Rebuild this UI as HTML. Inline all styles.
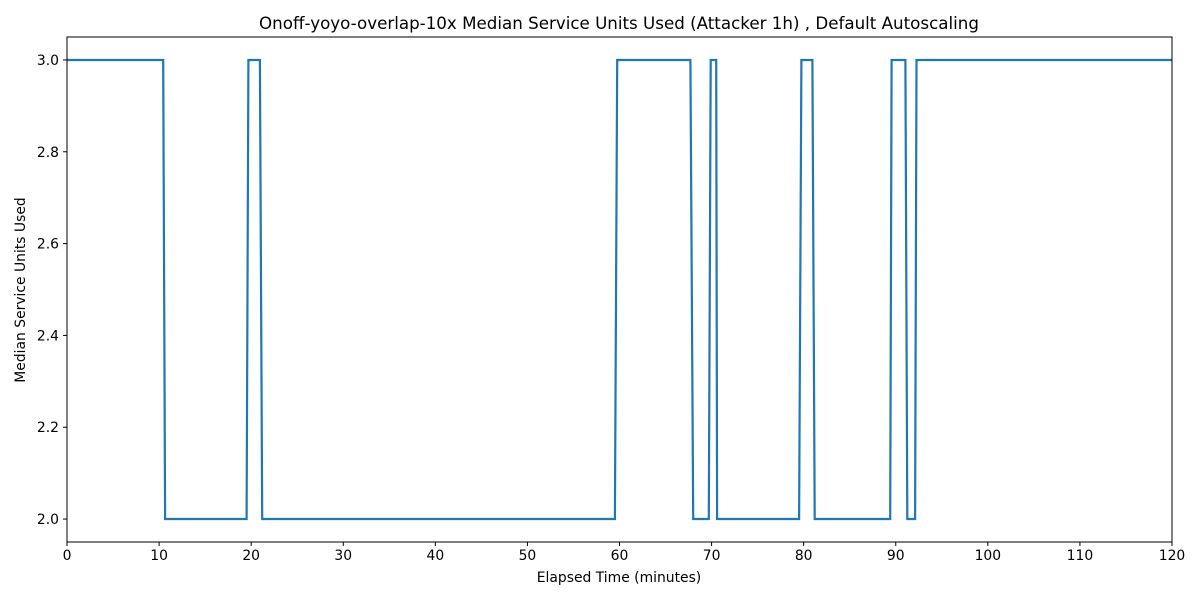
<!DOCTYPE html>
<html><head><meta charset="utf-8"><style>
body{margin:0;background:#fff;font-family:"DejaVu Sans","Liberation Sans",sans-serif}
svg text{font-family:"DejaVu Sans","Liberation Sans",sans-serif}
</style></head><body>
<svg width="1200" height="600" xmlns="http://www.w3.org/2000/svg">
<rect width="1200" height="600" fill="#fff"/>
<text x="619" y="29" text-anchor="middle" font-size="16.7">Onoff-yoyo-overlap-10x Median Service Units Used (Attacker 1h) , Default Autoscaling</text>
<text x="619" y="582" text-anchor="middle" font-size="13.9">Elapsed Time (minutes)</text>
<text transform="translate(25,290) rotate(-90)" text-anchor="middle" font-size="13.9">Median Service Units Used</text>
<g id="ticks"></g>
<path id="series" fill="none" stroke="#1f77b4" stroke-width="2.2" stroke-linejoin="miter"/>
<rect x="67" y="37" width="1105" height="505" fill="none" stroke="#000" stroke-width="1"/>
</svg>
<script>
const times=[0,10.45,10.65,19.5,19.7,20.95,21.2,59.5,59.75,67.7,68.0,69.7,69.9,70.5,70.6,79.5,79.75,80.95,81.2,89.4,89.55,91.05,91.25,92.1,92.25,120];
const units=[3,3,2,2,3,3,2,2,3,3,2,2,3,3,2,2,3,3,2,2,3,3,2,2,3,3];
const xTicks=[0,10,20,30,40,50,60,70,80,90,100,110,120];
const yTicks=[2.0,2.2,2.4,2.6,2.8,3.0];
const X0=67,X1=1172,Y0=542,Y1=37,xmin=0,xmax=120,ymin=1.95,ymax=3.05;
const sx=v=>X0+(v-xmin)/(xmax-xmin)*(X1-X0);
const sy=v=>Y0-(v-ymin)/(ymax-ymin)*(Y0-Y1);
const NS="http://www.w3.org/2000/svg";
const g=document.getElementById('ticks');
function mk(t,a){const e=document.createElementNS(NS,t);for(const k in a)e.setAttribute(k,a[k]);g.appendChild(e);return e;}
xTicks.forEach(v=>{
 const l=mk('line',{x1:sx(v),x2:sx(v),y1:Y0,y2:Y0+4,stroke:'#000'});
 
 
 const t=mk('text',{x:sx(v),y:Y0+18,'text-anchor':'middle','font-size':13.9});
 
 
 t.textContent=v;
});
yTicks.forEach(v=>{
 const l=mk('line',{x1:X0-4,x2:X0,y1:sy(v),y2:sy(v),stroke:'#000'});
 
 
 const t=mk('text',{x:X0-8,y:sy(v)+5,'text-anchor':'end','font-size':13.9});
 
 
 t.textContent=v.toFixed(1);
});
let d='';
times.forEach((t,i)=>{d+=(i?'L':'M')+sx(t).toFixed(1)+' '+sy(units[i]).toFixed(1);});
document.getElementById('series').setAttribute('d',d);
</script>
</body></html>
